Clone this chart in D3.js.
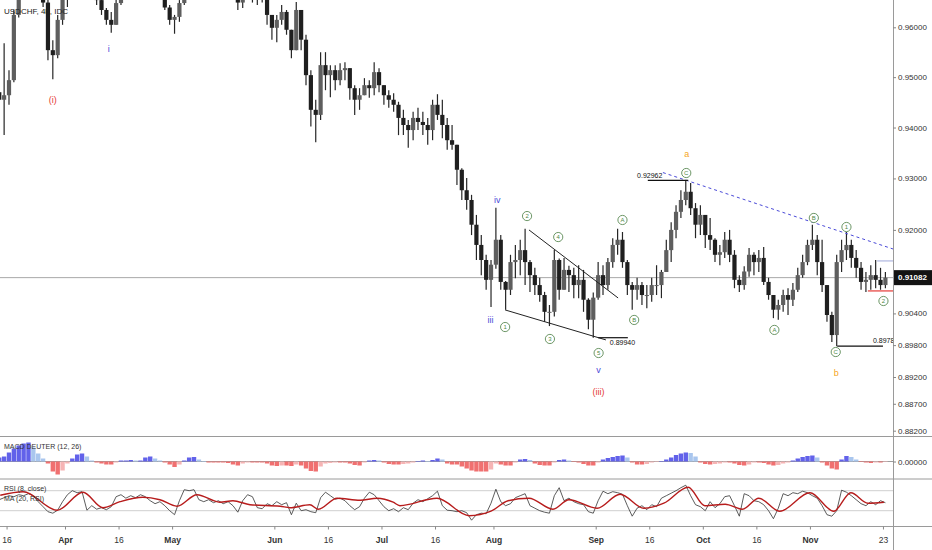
<!DOCTYPE html>
<html>
<head>
<meta charset="utf-8">
<script src="https://cdn.jsdelivr.net/npm/d3@7"></script>
<style>
  body { margin: 0; background: #fff; }
  svg { display: block; font-family: "Liberation Sans", Arial, sans-serif; }
</style>
</head>
<body>
<svg id="chart" width="932" height="550"></svg>
<script>
/* daily bars, day 0 = Mon Mar 16 2020 (trading days) */
var firstDay = -2;
var firstOpen = 0.9470;

var closes = [0.9455, 0.9464,
  0.9494, 0.9625, 0.9720, 0.9790, 0.9800, 0.9700, 0.9700, 0.9650, 0.9554, 0.9544,
  0.9615, 0.9665, 0.9690, 0.9700, 0.9740, 0.9720, 0.9690, 0.9680, 0.9655, 0.9635,
  0.9615, 0.9605, 0.9649, 0.9665, 0.9700, 0.9720, 0.9730, 0.9725, 0.9700, 0.9690,
  0.9700, 0.9670, 0.9640, 0.9615, 0.9621, 0.9649, 0.9700, 0.9720, 0.9710, 0.9720,
  0.9720, 0.9710, 0.9700, 0.9690, 0.9680, 0.9700, 0.9710, 0.9650, 0.9670, 0.9690,
  0.9660, 0.9660, 0.9670, 0.9625, 0.9599, 0.9615, 0.9631, 0.9595, 0.9554, 0.9635,
  0.9575, 0.9504, 0.9435, 0.9425, 0.9524, 0.9504, 0.9514, 0.9494, 0.9514, 0.9518,
  0.9478, 0.9455, 0.9464, 0.9484, 0.9478, 0.9510, 0.9484, 0.9464, 0.9455, 0.9445,
  0.9419, 0.9405, 0.9395, 0.9419, 0.9411, 0.9405, 0.9395, 0.9445, 0.9425, 0.9405,
  0.9375, 0.9366, 0.9317, 0.9277, 0.9258, 0.9210, 0.9171, 0.9142, 0.9104, 0.9133,
  0.9181, 0.9100, 0.9085, 0.9138, 0.9142, 0.9161, 0.9138, 0.9113, 0.9094, 0.9075,
  0.9043, 0.9043, 0.9142, 0.9085, 0.9123, 0.9113, 0.9094, 0.9104, 0.9066, 0.9028,
  0.9070, 0.9113, 0.9094, 0.9138, 0.9171, 0.9181, 0.9138, 0.9094, 0.9085, 0.9094,
  0.9075, 0.9075, 0.9094, 0.9094, 0.9119, 0.9161, 0.9200, 0.9235, 0.9258, 0.9274,
  0.9242, 0.9210, 0.9229, 0.9190, 0.9181, 0.9152, 0.9157, 0.9181, 0.9152, 0.9104,
  0.9094, 0.9120, 0.9152, 0.9138, 0.9146, 0.9100, 0.9075, 0.9047, 0.9056, 0.9075,
  0.9066, 0.9085, 0.9113, 0.9138, 0.9171, 0.9181, 0.9138, 0.9094, 0.9037, 0.8999,
  0.9138, 0.9161, 0.9171, 0.9146, 0.9127, 0.9100, 0.9104, 0.9113, 0.9104, 0.9094, 0.91082];

var highs = [0.9484, 0.9568,
  0.9514, 0.9635, 0.9800, 0.9850, 0.9900, 0.9810, 0.9760, 0.9700, 0.9660, 0.9574,
  0.9625, 0.9680, 0.9720, 0.9730, 0.9780, 0.9770, 0.9740, 0.9710, 0.9690, 0.9680,
  0.9639, 0.9631, 0.9655, 0.9690, 0.9720, 0.9740, 0.9760, 0.9750, 0.9760, 0.9720,
  0.9720, 0.9710, 0.9680, 0.9645, 0.9625, 0.9655, 0.9720, 0.9760, 0.9740, 0.9740,
  0.9760, 0.9740, 0.9740, 0.9720, 0.9720, 0.9730, 0.9730, 0.9720, 0.9700, 0.9720,
  0.9700, 0.9680, 0.9690, 0.9672, 0.9625, 0.9625, 0.9645, 0.9635, 0.9595, 0.9651,
  0.9635, 0.9585, 0.9514, 0.9455, 0.9550, 0.9550, 0.9524, 0.9524, 0.9528, 0.9530,
  0.9518, 0.9484, 0.9478, 0.9498, 0.9494, 0.9530, 0.9518, 0.9484, 0.9474, 0.9468,
  0.9451, 0.9435, 0.9415, 0.9431, 0.9439, 0.9431, 0.9419, 0.9455, 0.9466, 0.9455,
  0.9419, 0.9405, 0.9366, 0.9320, 0.9301, 0.9268, 0.9229, 0.9190, 0.9152, 0.9142,
  0.9243, 0.9190, 0.9102, 0.9152, 0.9171, 0.9181, 0.9202, 0.9142, 0.9127, 0.9108,
  0.9081, 0.9056, 0.9161, 0.9145, 0.9146, 0.9131, 0.9127, 0.9132, 0.9123, 0.9069,
  0.9080, 0.9138, 0.9132, 0.9146, 0.9184, 0.9202, 0.9196, 0.9142, 0.9100, 0.9108,
  0.9100, 0.9094, 0.9108, 0.9132, 0.9123, 0.9181, 0.9215, 0.9248, 0.9277, 0.92962,
  0.9291, 0.9252, 0.9248, 0.9229, 0.9223, 0.9184, 0.9171, 0.9196, 0.9200, 0.9161,
  0.9113, 0.9130, 0.9165, 0.9157, 0.9161, 0.9167, 0.9108, 0.9075, 0.9066, 0.9085,
  0.9088, 0.9098, 0.9127, 0.9152, 0.9181, 0.9210, 0.9190, 0.9181, 0.9094, 0.9043,
  0.9152, 0.9181, 0.9196, 0.9181, 0.9161, 0.9138, 0.9119, 0.9132, 0.9142, 0.9127, 0.9119];

var lows = [0.9419, 0.9385,
  0.9445, 0.9490, 0.9620, 0.9700, 0.9750, 0.9680, 0.9670, 0.9641, 0.9534, 0.9496,
  0.9538, 0.9605, 0.9641, 0.9665, 0.9680, 0.9690, 0.9670, 0.9660, 0.9645, 0.9625,
  0.9605, 0.9589, 0.9605, 0.9645, 0.9660, 0.9680, 0.9690, 0.9700, 0.9690, 0.9680,
  0.9670, 0.9660, 0.9635, 0.9605, 0.9587, 0.9611, 0.9645, 0.9690, 0.9690, 0.9700,
  0.9700, 0.9690, 0.9680, 0.9670, 0.9660, 0.9670, 0.9675, 0.9635, 0.9639, 0.9665,
  0.9650, 0.9645, 0.9650, 0.9605, 0.9575, 0.9570, 0.9605, 0.9585, 0.9538, 0.9554,
  0.9554, 0.9484, 0.9402, 0.9371, 0.9415, 0.9474, 0.9460, 0.9474, 0.9484, 0.9494,
  0.9455, 0.9425, 0.9435, 0.9464, 0.9459, 0.9464, 0.9470, 0.9445, 0.9439, 0.9431,
  0.9385, 0.9385, 0.9360, 0.9375, 0.9395, 0.9385, 0.9366, 0.9375, 0.9415, 0.9379,
  0.9356, 0.9356, 0.9287, 0.9258, 0.9239, 0.9190, 0.9142, 0.9113, 0.9085, 0.9052,
  0.9125, 0.9085, 0.9047, 0.9075, 0.9107, 0.9113, 0.9094, 0.9081, 0.9075, 0.9062,
  0.9024, 0.9016, 0.9034, 0.9066, 0.9094, 0.9081, 0.9069, 0.9069, 0.9043, 0.9010,
  0.8994, 0.9066, 0.9075, 0.9085, 0.9127, 0.9152, 0.9127, 0.9075, 0.9047, 0.9066,
  0.9056, 0.9050, 0.9062, 0.9075, 0.9069, 0.9119, 0.9138, 0.9184, 0.9223, 0.9248,
  0.9229, 0.9184, 0.9190, 0.9165, 0.9161, 0.9138, 0.9132, 0.9146, 0.9138, 0.9088,
  0.9081, 0.9085, 0.9110, 0.9113, 0.9119, 0.9094, 0.9066, 0.9031, 0.9028, 0.9043,
  0.9037, 0.9054, 0.9081, 0.9108, 0.9132, 0.9161, 0.9113, 0.9081, 0.9024, 0.8986,
  0.8978, 0.9119, 0.9142, 0.9127, 0.9108, 0.9085, 0.9081, 0.9085, 0.9088, 0.9085, 0.9088];

// MACD Deuter histogram, in pips
var macdHist = [4, 5,
  9, 13, 16, 18, 19, 14, 8, 3, -2, -10,
  -13, -9, -2, 3, 7, 8, 5, 1, -1, -2,
  -3, -3, -1, 1, 1, 1.5, 1, 1, 4, 5,
  3, 1, -1, -3, -5.5, -3, 1, 4, 4.5, 2,
  0.5, -1, -1, -1, -1, -1.5, -3, -4, -2, -1,
  -1, -1, -1, -2, -4, -4.5, -4, -4, -4.5, -3,
  -4, -7, -9.5, -10, -5, -2, -1.5, -1, -1, -1,
  -2, -3.5, -4, -1, 1, 1.5, 1, -1, -2.5, -3,
  -3, -2.5, -2, -1, 0.5, 1, 0.5, 1.5, 3, 2,
  -2, -3, -3, -5, -7, -9, -10, -10, -10, -8,
  -2, -3, -4, -4, -1, 2, 2.5, 1.5, -2, -3.5,
  -4, -4, -1, 1.5, 2, 1, -0.5, -1, -2.5, -4,
  -4, -1, 2, 3.5, 4.5, 5.5, 6, 4, -1, -3,
  -3, -2.5, -1, -0.5, 0.5, 2, 4, 6.5, 8, 9,
  8.5, 5, -1, -2.5, -3, -2.5, -2, -1, -1, -2,
  -3.5, -4, -3, -1, -1, -1.5, -3, -4, -3.5, -2,
  -1, 1, 3, 4.5, 5.5, 6, 4, -1, -4, -7,
  -8, 2, 5.5, 4.5, 2, -0.5, -1, -1.5, -1, -1, -0.5];

var rsi = [52, 56,
  60, 58, 62, 60, 64, 60, 48, 38, 28, 25,
  31, 48, 62, 70, 66, 68, 31, 40, 33, 36,
  32, 38, 58, 62, 55, 60, 56, 62, 58, 50,
  44, 48, 40, 30, 22, 50, 72, 70, 72, 52,
  48, 52, 46, 50, 44, 48, 40, 27, 50, 62,
  58, 36, 34, 44, 40, 48, 42, 46, 22, 45,
  30, 32, 28, 26, 56, 67, 60, 53, 55, 50,
  40, 32, 38, 55, 67, 62, 50, 38, 30, 34,
  28, 36, 32, 45, 52, 48, 54, 60, 69, 40,
  31, 30, 28, 30, 26, 11, 22, 25, 24, 45,
  73, 48, 40, 44, 56, 60, 64, 40, 35, 30,
  27, 25, 60, 76, 50, 55, 48, 44, 42, 28,
  25, 50, 69, 64, 68, 66, 63, 40, 19, 35,
  40, 32, 42, 38, 55, 60, 65, 70, 76, 81,
  60, 42, 38, 30, 48, 36, 44, 58, 60, 40,
  19, 64, 60, 50, 48, 42, 30, 14, 35, 64,
  60, 66, 64, 69, 66, 60, 55, 40, 22, 19,
  30, 71, 67, 60, 52, 44, 40, 48, 42, 50, 46];

var rsiMaDays = [-1.8, 2.9, 9.9, 15.2, 19.3, 22.8, 27.5, 31.0, 34.5, 38.6, 43.3, 46.0,
  49.5, 55.7, 57.7, 61.8, 63.5, 67.4, 72.1, 75.6, 78.9, 80.3, 87.9, 94.5, 99.0,
  102.5, 106.8, 111.7, 115.0, 120.8, 125.5, 130.4, 134.5, 139.5, 142.9, 147.1,
  150.6, 154.0, 158.3, 164.5, 169.4, 172.9, 176.4, 179.7];
var rsiMaValues = [61, 68, 31, 67, 36, 48, 57, 52, 39, 62, 47, 50,
  42, 39, 36, 42, 33, 55, 51, 55, 47, 40, 55, 20, 29,
  50, 55, 33, 52, 35, 63, 35, 45, 77, 40, 43,
  33, 55, 29, 66, 29, 66, 45, 47];

var tickDays = [0, 12, 23, 34, 55, 66, 77, 88, 100, 121, 132, 143, 154, 165, 180];
var tickLabels = ["16", "Apr", "16", "May", "Jun", "16", "Jul", "16", "Aug", "Sep", "16", "Oct", "16", "Nov", "23"];
var priceTicks = [0.96, 0.95, 0.94, 0.93, 0.92, 0.904, 0.898, 0.892, 0.887, 0.882];
var lastPrice = 0.91082;

// wave counts: [day, price, text]
var minorWaves = [[9.0, 0.9455, "(i)"], [121.1, 0.88919, "(iii)"]];
var minuteWaves = [[20.5, 0.9556, "i"], [98.9, 0.9028, "iii"], [100.3, 0.9258, "iv"], [121.1, 0.89331, "v"]];
var subWaves = [[101.9, 0.90142, "1"], [106.4, 0.92268, "2"], [111.1, 0.89916, "3"], [112.8, 0.91862, "4"],
  [121.1, 0.89651, "5"], [126.0, 0.92192, "A"], [128.4, 0.90276, "B"], [139.1, 0.93106, "C"],
  [157.2, 0.90087, "A"], [165.3, 0.92231, "B"], [169.8, 0.89670, "C"], [172.0, 0.92056, "1"], [179.6, 0.90636, "2"]];
var correctionWaves = [[139.2, 0.93479, "a"], [169.9, 0.89275, "b"]];

// drawings: [fromDay, toDay, price]
var levelLines = [[131.2, 139.5, 0.92962], [121.0, 127.1, 0.89940], [170.1, 179.5, 0.89780]];
var levelTexts = [[129.0, 0.93066, "0.92962"], [123.4, 0.89853, "0.89940"], [177.45, 0.89883, "0.89780"]];
var wedgeLines = [[[106.8, 0.91999], [125.1, 0.90694]], [[101.9, 0.90466], [122.6, 0.89898]]];
var trendLine = [[134.3, 0.93115], [181.6, 0.91631]];
var stopLine = [176.4, 181.6, 0.90828];
var rangeTop = [178.3, 181.6, 0.91402];

/* scales */
var plotRight = 893;
var x = d3.scaleLinear().domain([0, 180]).range([9, 885.4]);
var y = d3.scaleLog().domain([0.96, 0.882]).range([27.3, 430.7]);
var yMacd = d3.scaleLinear().domain([-17.5, 24.5]).range([479, 437]);
var yRsi = d3.scaleLinear().domain([0, 100]).range([525.7, 475.7]);

var svg = d3.select("#chart");
var defs = svg.append("defs");
defs.append("clipPath").attr("id", "clipMain").append("rect")
    .attr("x", 0).attr("y", 0).attr("width", plotRight).attr("height", 436);
defs.append("clipPath").attr("id", "clipMacd").append("rect")
    .attr("x", 0).attr("y", 437).attr("width", plotRight).attr("height", 42);
defs.append("clipPath").attr("id", "clipRsi").append("rect")
    .attr("x", 0).attr("y", 479).attr("width", plotRight).attr("height", 47);

var bars = closes.map(function (c, k) {
    return {
        day: firstDay + k,
        open: k ? closes[k - 1] : firstOpen,
        high: highs[k], low: lows[k], close: c
    };
});

/* main pane */
var main = svg.append("g").attr("clip-path", "url(#clipMain)");

main.append("line")
    .attr("x1", 0).attr("x2", plotRight)
    .attr("y1", y(lastPrice)).attr("y2", y(lastPrice))
    .style("stroke", "#a8a8a8").style("stroke-width", 1);

var candle = main.selectAll("g.candle").data(bars).enter().append("g").attr("class", "candle");
candle.append("line")
    .attr("x1", function (d) { return x(d.day); })
    .attr("x2", function (d) { return x(d.day); })
    .attr("y1", function (d) { return y(Math.max(d.high, d.open, d.close)); })
    .attr("y2", function (d) { return y(Math.min(d.low, d.open, d.close)); })
    .style("stroke", "#262626").style("stroke-width", 1.2);
candle.append("rect")
    .attr("x", function (d) { return x(d.day) - 2.1; })
    .attr("width", 4.2)
    .attr("y", function (d) { return y(Math.max(d.open, d.close)); })
    .attr("height", function (d) { return Math.max(1, y(Math.min(d.open, d.close)) - y(Math.max(d.open, d.close))); })
    .style("fill", function (d) { return d.close >= d.open ? "#5e5e5e" : "#1f1f1f"; });

// trend line through the a / B / 1 tops
main.append("line")
    .attr("x1", x(trendLine[0][0])).attr("y1", y(trendLine[0][1]))
    .attr("x2", x(trendLine[1][0])).attr("y2", y(trendLine[1][1]))
    .style("stroke", "#4a4ad8").style("stroke-width", 1).style("stroke-dasharray", "3,3");

main.selectAll("line.wedge").data(wedgeLines).enter().append("line").attr("class", "wedge")
    .attr("x1", function (d) { return x(d[0][0]); }).attr("y1", function (d) { return y(d[0][1]); })
    .attr("x2", function (d) { return x(d[1][0]); }).attr("y2", function (d) { return y(d[1][1]); })
    .style("stroke", "#222").style("stroke-width", 1);

main.selectAll("line.level").data(levelLines).enter().append("line").attr("class", "level")
    .attr("x1", function (d) { return x(d[0]); }).attr("x2", function (d) { return x(d[1]); })
    .attr("y1", function (d) { return y(d[2]); }).attr("y2", function (d) { return y(d[2]); })
    .style("stroke", "#111").style("stroke-width", 1.2);

main.selectAll("text.level").data(levelTexts).enter().append("text").attr("class", "level")
    .attr("x", function (d) { return x(d[0]); })
    .attr("y", function (d) { return y(d[1]); })
    .attr("dy", "0.35em")
    .style("font-size", "7px").style("fill", "#111")
    .text(function (d) { return d[2]; });

main.append("line")
    .attr("x1", x(stopLine[0])).attr("x2", x(stopLine[1]))
    .attr("y1", y(stopLine[2])).attr("y2", y(stopLine[2]))
    .style("stroke", "#e53935").style("stroke-width", 1.2);
main.append("line")
    .attr("x1", x(rangeTop[0])).attr("x2", x(rangeTop[1]))
    .attr("y1", y(rangeTop[2])).attr("y2", y(rangeTop[2]))
    .style("stroke", "#9fa8da").style("stroke-width", 1);

function waveText(data, color, size) {
    main.selectAll(null).data(data).enter().append("text")
        .attr("x", function (d) { return x(d[0]); })
        .attr("y", function (d) { return y(d[1]); })
        .attr("dy", "0.35em")
        .attr("text-anchor", "middle")
        .style("font-size", size).style("fill", color)
        .text(function (d) { return d[2]; });
}
waveText(minorWaves, "#e53935", "9px");
waveText(minuteWaves, "#4a4ad8", "9px");
waveText(correctionWaves, "#f5a623", "9px");

var circ = main.selectAll("g.sub").data(subWaves).enter().append("g").attr("class", "sub")
    .attr("transform", function (d) { return "translate(" + x(d[0]) + "," + y(d[1]) + ")"; });
circ.append("circle").attr("r", 4.6)
    .style("fill", "#fff").style("stroke", "#5b8a55").style("stroke-width", 0.9);
circ.append("text").attr("text-anchor", "middle").attr("dy", "0.35em")
    .style("font-size", "6px").style("fill", "#4f8a45")
    .text(function (d) { return d[2]; });

svg.append("text").attr("x", 4).attr("y", 11).attr("dy", "0.35em")
    .style("font-size", "8px").style("fill", "#222")
    .text("USDCHF, 4h, IDC");

/* MACD pane */
var macd = svg.append("g").attr("clip-path", "url(#clipMacd)");
macd.append("line").attr("x1", 0).attr("x2", plotRight)
    .attr("y1", yMacd(0)).attr("y2", yMacd(0))
    .style("stroke", "#9e9e9e").style("stroke-width", 1);
macd.selectAll("rect").data(macdHist).enter().append("rect")
    .attr("x", function (d, k) { return x(firstDay + k) - 2.2; })
    .attr("width", 4.4)
    .attr("y", function (d) { return yMacd(Math.max(0, d)); })
    .attr("height", function (d) { return Math.abs(yMacd(d) - yMacd(0)); })
    .style("fill", function (d, k) {
        var prev = k ? macdHist[k - 1] : d;
        if (d >= 0) return d >= prev ? "#6262ea" : "#a9c6ee";
        return d <= prev ? "#f07070" : "#f6b4b4";
    });
svg.append("text").attr("x", 4).attr("y", 447).attr("dy", "0.35em")
    .style("font-size", "7px").style("fill", "#333")
    .text("MACD DEUTER (12, 26)");

/* RSI pane */
var rsiG = svg.append("g").attr("clip-path", "url(#clipRsi)");
rsiG.selectAll("line.band").data([70, 30]).enter().append("line").attr("class", "band")
    .attr("x1", 0).attr("x2", plotRight)
    .attr("y1", function (d) { return yRsi(d); }).attr("y2", function (d) { return yRsi(d); })
    .style("stroke", "#cfcfcf").style("stroke-width", 1);
rsiG.append("path")
    .datum(rsi)
    .attr("d", d3.line()
        .x(function (d, k) { return x(firstDay + k); })
        .y(function (d) { return yRsi(d); }))
    .style("fill", "none").style("stroke", "#333").style("stroke-width", 0.8);
rsiG.append("path")
    .datum(rsiMaDays.map(function (d, k) { return [d, rsiMaValues[k]]; }))
    .attr("d", d3.line().curve(d3.curveMonotoneX)
        .x(function (d) { return x(d[0]); })
        .y(function (d) { return yRsi(d[1]); }))
    .style("fill", "none").style("stroke", "#b71c1c").style("stroke-width", 1.4);
svg.append("text").attr("x", 4).attr("y", 489).attr("dy", "0.35em")
    .style("font-size", "7px").style("fill", "#333").text("RSI (8, close)");
svg.append("text").attr("x", 4).attr("y", 499).attr("dy", "0.35em")
    .style("font-size", "7px").style("fill", "#333").text("MA (20, RSI)");

/* frame */
[436.5, 479, 526.5].forEach(function (v) {
    svg.append("line").attr("x1", 0).attr("x2", 932).attr("y1", v).attr("y2", v)
        .style("stroke", "#9a9a9a").style("stroke-width", 1);
});
svg.append("line").attr("x1", plotRight + 0.5).attr("x2", plotRight + 0.5)
    .attr("y1", 0).attr("y2", 550)
    .style("stroke", "#9a9a9a").style("stroke-width", 1);

/* axes */
function styleAxis(g) {
    g.select(".domain").remove();
    g.selectAll(".tick line").style("stroke", "#888");
    g.selectAll(".tick text").style("font-size", "8px").style("fill", "#333")
        .style("font-family", "\"Liberation Sans\", Arial, sans-serif");
}

svg.append("g").attr("transform", "translate(" + plotRight + ",0)")
    .call(d3.axisRight(y).tickValues(priceTicks).tickFormat(d3.format(".5f")).tickSize(3).tickPadding(2))
    .call(styleAxis);

svg.append("g").attr("transform", "translate(" + plotRight + ",0)")
    .call(d3.axisRight(yMacd).tickValues([0]).tickFormat(d3.format(".5f")).tickSize(3).tickPadding(2))
    .call(styleAxis);

var xAxis = svg.append("g").attr("transform", "translate(0,526.5)")
    .call(d3.axisBottom(x)
        .tickValues(tickDays.map(function (d) { return d - 0.5; }))
        .tickFormat(function (d, k) { return tickLabels[k]; })
        .tickSize(3).tickPadding(7))
    .call(styleAxis);
xAxis.selectAll(".tick text")
    .style("font-size", "8.5px")
    .style("font-weight", function (d, k) { return isNaN(+tickLabels[k]) ? "bold" : "normal"; });

/* last price tag */
svg.append("rect").attr("x", plotRight + 1).attr("y", y(lastPrice) - 7.5)
    .attr("width", 39).attr("height", 15).style("fill", "#131313");
svg.append("text").attr("x", plotRight + 5).attr("y", y(lastPrice)).attr("dy", "0.35em")
    .style("font-size", "8px").style("fill", "#fff").style("font-weight", "bold")
    .text(d3.format(".5f")(lastPrice));
</script>
</body>
</html>
